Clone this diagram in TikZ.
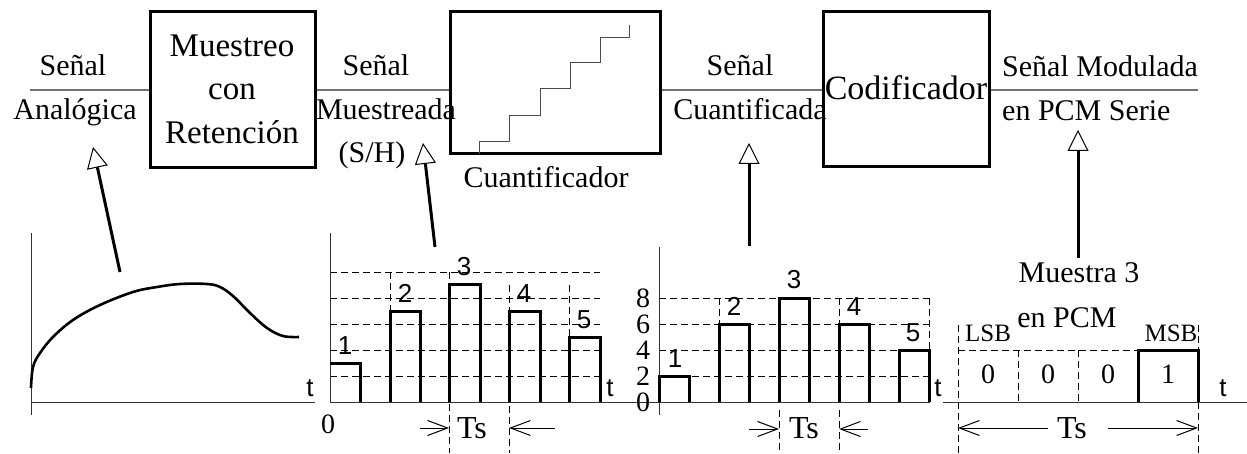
\documentclass[tikz,border=0pt]{standalone}
\usepackage{fontspec}
\setmainfont{Liberation Serif}
\newfontfamily\arialf{Liberation Sans}
\usetikzlibrary{arrows.meta}
\newcommand\myfs[1]{\fontsize{#1}{#1}\selectfont}
\begin{document}
\begin{tikzpicture}[x=1pt,y=-1pt,
 blk/.style={draw,line width=3pt,inner sep=0pt},
 lbl/.style={font=\myfs{30},inner sep=0pt,anchor=base},
 btxt/.style={font=\myfs{33},inner sep=0pt,anchor=base},
 sig/.style={draw=black!55,line width=1.2pt},
 ax/.style={line width=1pt,draw=black!80},
 gridl/.style={line width=0.9pt,dash pattern=on 7pt off 4pt},
 bar/.style={line width=3pt},
 stair/.style={line width=1pt,draw=black!70},
 ptr/.style={line width=3pt,-{Triangle[open,length=21pt,width=21pt,line width=1pt]}},
 tsar/.style={line width=1pt,-{Straight Barb[length=20pt,width=15pt,line width=1pt]}},
 sans/.style={font=\arialf\myfs{26},inner sep=0pt,anchor=base},
 sdig/.style={font=\myfs{28},inner sep=0pt},
 tsl/.style={font=\myfs{32},inner sep=0pt,anchor=base}]
\useasboundingbox (0,0) rectangle (1247,454);

% ---------- blocks ----------
\node[blk,minimum width=165pt,minimum height=156pt] (box1) at (232.5,90) {};
\node[blk,minimum width=210pt,minimum height=142pt] (box2) at (555,83) {};
\node[blk,minimum width=166pt,minimum height=155pt] (box3) at (906,89.5) {};

% signal line
\coordinate (sigL) at (30,90);
\coordinate (sigR) at (1198,90);
\draw[sig] (sigL) -- (sigL -| box1.west);
\draw[sig] (sigL -| box1.east) -- (sigL -| box2.west);
\draw[sig] (sigL -| box2.east) -- (sigL -| box3.west);
\draw[sig] (sigL -| box3.east) -- (sigR);

% block texts
\node[btxt] (b1a) at (232,57) {Muestreo};
\node[btxt] (b1b) at (232,100) {con};
\node[btxt] (b1c) at (232,144) {Retención};
\node[btxt,font=\myfs{34}] (b3a) at (906,100) {Codificador};
\draw[stair] (479,154) -- (479,142) -- (509,142) -- (509,116) -- (540,116) -- (540,89)
  -- (570,89) -- (570,63) -- (600,63) -- (600,38) -- (629,38) -- (629,25);
\node[lbl] (cuant) at (546,188) {Cuantificador};

% signal labels
\node[lbl] (s1a) at (73,76) {Señal};
\node[lbl] (s1b) at (75,120) {Analógica};
\node[lbl] (s2a) at (376,76) {Señal};
\node[lbl] (s2b) at (386,120) {Muestreada};
\node[lbl] (s2c) at (372,163) {(S/H)};
\node[lbl] (s3a) at (740,76) {Señal};
\node[lbl] (s3b) at (750,120) {Cuantificada};
\node[lbl,anchor=base west] (s4a) at (1002,77) {Señal Modulada};
\node[lbl,anchor=base west] (s4b) at (1002,121) {en PCM Serie};
\node[lbl] (m3a) at (1079,283) {Muestra 3};
\node[lbl] (m3b) at (1067,327) {en PCM};

% pointer arrows
\coordinate (p1s) at (120,272); \coordinate (p1t) at (93,147);
\coordinate (p2s) at (435,247); \coordinate (p2t) at (423,143);
\coordinate (p3s) at (749,246); \coordinate (p3t) at (749,143);
\coordinate (p4s) at (1078,258); \coordinate (p4t) at (1078,130);
\draw[ptr] (p1s) -- (p1t);
\draw[ptr] (p2s) -- (p2t);
\draw[ptr] (p3s) -- (p3t);
\draw[ptr] (p4s) -- (p4t);

% ---------- graph 1 : analog ----------
\draw[ax] (31,233) -- (31,415);
\draw[ax] (31,402) -- (315,402);
\node[sans] (t1) at (310,396) {t};
\draw[bar,line width=2.6pt] plot[smooth,tension=0.6] coordinates {(31,388) (33,367) (40,353) (53,337) (73,320) (100,305) (133,292) (157,287) (180,284) (207,284) (220,287) (233,296) (250,313) (267,328) (283,336) (299,337)};

% ---------- graph 2 : S/H ----------
\foreach \yy in {272,298,324,350,376} \draw[gridl] (330,\yy) -- (600,\yy);
\draw[gridl] (390,272) -- (390,311);
\draw[gridl] (449,272) -- (449,453);
\draw[gridl] (509,285) -- (509,453);
\draw[gridl] (569,285) -- (569,337);
\draw[ax] (330,233) -- (330,402);
\draw[ax] (330,402) -- (660,402);
\draw[bar] (330,363) -- (360,363) -- (360,402);
\draw[bar] (390,402) |- (420,311) -- (420,402);
\draw[bar] (449,402) |- (480,285) -- (480,402);
\draw[bar] (509,402) |- (540,311) -- (540,402);
\draw[bar] (569,402) |- (600,337) -- (600,402);
\node[sans] (g2n1) at (345,354) {1};
\node[sans] (g2n2) at (405,302) {2};
\node[sans] (g2n3) at (464,276) {3};
\node[sans] (g2n4) at (524,302) {4};
\node[sans] (g2n5) at (584,328) {5};
\node[sans] (t2) at (610,396) {t};
\node[sdig,anchor=base] (zero2) at (328,433) {0};
\coordinate (ts2a) at (420,428); \coordinate (ts2b) at (449,428);
\coordinate (ts2c) at (555,428); \coordinate (ts2d) at (509,428);
\draw[tsar] (ts2a) -- (ts2b);
\draw[tsar] (ts2c) -- (ts2d);
\node[tsl] (ts2) at (472,438) {Ts};

% ---------- graph 3 : quantized ----------
\foreach \yy in {298,324,350,376} \draw[gridl] (659,\yy) -- (929,\yy);
\draw[gridl] (719,298) -- (719,324);
\draw[gridl] (839,298) -- (839,324);
\draw[gridl] (929,298) -- (929,350);
\draw[gridl] (779,410) -- (779,453);
\draw[gridl] (839,410) -- (839,453);
\draw[ax] (659,247) -- (659,415);
\draw[ax] (600,402) -- (930,402);
\draw[bar] (659,402) |- (689,376) -- (689,402);
\draw[bar] (719,402) |- (749,324) -- (749,402);
\draw[bar] (779,402) |- (809,298) -- (809,402);
\draw[bar] (839,402) |- (869,324) -- (869,402);
\draw[bar] (899,402) |- (929,350) -- (929,402);
\node[sdig] (y8) at (643,298) {8};
\node[sdig] (y6) at (643,324) {6};
\node[sdig] (y4) at (643,350) {4};
\node[sdig] (y2) at (643,376) {2};
\node[sdig] (y0) at (643,402) {0};
\node[sans] (g3n1) at (675,367) {1};
\node[sans] (g3n2) at (734,315) {2};
\node[sans] (g3n3) at (794,289) {3};
\node[sans] (g3n4) at (854,315) {4};
\node[sans] (g3n5) at (913,341) {5};
\node[sans] (t3) at (938,396) {t};
\coordinate (ts3a) at (749,429); \coordinate (ts3b) at (779,429);
\coordinate (ts3c) at (868,429); \coordinate (ts3d) at (839,429);
\draw[tsar] (ts3a) -- (ts3b);
\draw[tsar] (ts3c) -- (ts3d);
\node[tsl] (ts3) at (804,438) {Ts};

% ---------- graph 4 : PCM ----------
\draw[gridl] (958,325) -- (958,453);
\draw[gridl] (1198,325) -- (1198,453);
\draw[gridl] (1018,350) -- (1018,402);
\draw[gridl] (1078,350) -- (1078,402);
\draw[gridl] (958,350) -- (1138,350);
\draw[ax] (943,402) -- (1247,402);
\draw[bar] (1138,402) |- (1198,350) -- (1198,402);
\node[sdig,anchor=base] (d1) at (988,383) {0};
\node[sdig,anchor=base] (d2) at (1048,383) {0};
\node[sdig,anchor=base] (d3) at (1108,383) {0};
\node[sdig,anchor=base] (d4) at (1168,383) {1};
\node[font=\myfs{25},inner sep=0pt,anchor=base] (lsb) at (988,341) {LSB};
\node[font=\myfs{25},inner sep=0pt,anchor=base] (msb) at (1171,341) {MSB};
\node[sans] (t4) at (1223,396) {t};
\node[tsl] (ts4) at (1072,438) {Ts};
\coordinate (ts4a) at (1048,428); \coordinate (ts4b) at (958,428);
\coordinate (ts4c) at (1108,428); \coordinate (ts4d) at (1198,428);
\draw[tsar] (ts4a) -- (ts4b);
\draw[tsar] (ts4c) -- (ts4d);
\end{tikzpicture}
\end{document}
